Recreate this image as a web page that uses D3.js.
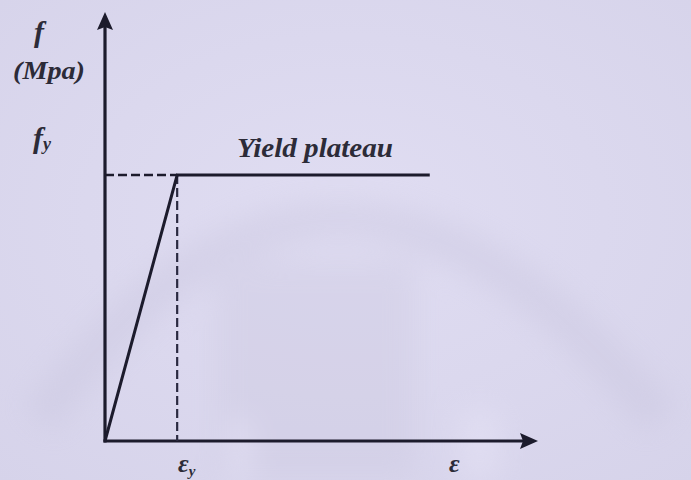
<!DOCTYPE html>
<html><head><meta charset="utf-8">
<script src="https://cdn.jsdelivr.net/npm/d3@7"></script>
<style>html,body{margin:0;padding:0;background:#dcd9ef;}svg{display:block;}</style>
</head><body>
<svg id="c" width="691" height="480"></svg>
<script>
// Data (normalized elastic–perfectly-plastic steel model)
const strainPoints = [0, 1, 4.5];        // 0, εy, end of yield plateau
const stressPoints = [0, 0.62, 0.62];    // 0, fy, fy
const yieldStrain = 1;
const yieldStress = 0.62;
const xDomain = [0, 6];
const yDomain = [0, 1];
const labels = {yTitle: "f", yUnit: "(Mpa)", fy: "f", fySub: "y", eps: "ε", epsSub: "y", plateau: "Yield plateau"};

const svg = d3.select("#c");
const W = 691, H = 480;

// background with faint watermark-like shapes
const defs = svg.append("defs");
const rg = defs.append("radialGradient").attr("id","bg").attr("cx","0.5").attr("cy","0.45").attr("r","0.75");
rg.append("stop").attr("offset","0").attr("stop-color","#e0ddf2");
rg.append("stop").attr("offset","1").attr("stop-color","#d6d3ea");
svg.append("rect").attr("width",W).attr("height",H).attr("fill","url(#bg)");
const blur = defs.append("filter").attr("id","blur").attr("x","-20%").attr("y","-20%").attr("width","140%").attr("height","140%");
blur.append("feGaussianBlur").attr("stdDeviation",14);
const wm = svg.append("g").attr("filter","url(#blur)").attr("opacity",0.35);
wm.append("path").attr("d","M40,420 Q330,20 660,420").attr("fill","none").attr("stroke","#c6c2dc").attr("stroke-width",40);
wm.append("rect").attr("x",215).attr("y",260).attr("width",200).attr("height",220).attr("fill","#cbc7df");
wm.append("rect").attr("x",460).attr("y",410).attr("width",40).attr("height",70).attr("fill","#ece9fa");
wm.append("rect").attr("x",230).attr("y",420).attr("width",20).attr("height",60).attr("fill","#ece9fa");

const x = d3.scaleLinear().domain(xDomain).range([105, 538]);
const y = d3.scaleLinear().domain(yDomain).range([441, 12]);

const ink = "#1c1b2c";
const g = svg.append("g");

// axes (drawn with d3 axis generators, ticks hidden)
const xAxis = g.append("g").attr("transform",`translate(0,${y(0)})`).call(d3.axisBottom(x).tickValues([]).tickSizeOuter(0));
xAxis.select(".domain").attr("stroke",ink).attr("stroke-width",3.2).attr("d",`M${x(0)-1.5},0H${x(xDomain[1])-14}`);
const yAxis = g.append("g").attr("transform",`translate(${x(0)},0)`).call(d3.axisLeft(y).tickValues([]).tickSizeOuter(0));
yAxis.select(".domain").attr("stroke",ink).attr("stroke-width",3.2).attr("d",`M0,${y(0)+1.5}V${y(yDomain[1])+14}`);

// arrow heads
g.append("path").attr("fill",ink)
  .attr("d",`M${x(xDomain[1])},${y(0)} L${x(xDomain[1])-18},${y(0)-8} L${x(xDomain[1])-15},${y(0)} L${x(xDomain[1])-18},${y(0)+8}Z`);
g.append("path").attr("fill",ink)
  .attr("d",`M${x(0)},${y(yDomain[1])} L${x(0)-8},${y(yDomain[1])+18} L${x(0)},${y(yDomain[1])+15} L${x(0)+8},${y(yDomain[1])+18}Z`);

// dashed guide lines
g.append("line").attr("x1",x(0)).attr("x2",x(yieldStrain)).attr("y1",y(yieldStress)).attr("y2",y(yieldStress))
  .attr("stroke",ink).attr("stroke-width",2.4).attr("stroke-dasharray","9,4");
g.append("line").attr("x1",x(yieldStrain)).attr("x2",x(yieldStrain)).attr("y1",y(yieldStress)).attr("y2",y(0))
  .attr("stroke","#2a2940").attr("stroke-width",2.2).attr("stroke-dasharray","9,4");

// stress–strain curve
const line = d3.line().x((d,i)=>x(strainPoints[i])).y((d,i)=>y(stressPoints[i]));
g.append("path").datum(strainPoints).attr("d",line).attr("fill","none").attr("stroke",ink)
  .attr("stroke-width",3).attr("stroke-linejoin","miter");

// text
const font = "Liberation Serif";
function txt(xp, yp, s, size, opts={}) {
  const t = g.append("text").attr("x",xp).attr("y",yp).attr("font-family",font)
    .attr("font-style","italic").attr("font-weight","bold").attr("font-size",size)
    .attr("fill","#2c2b38").text(s);
  if (opts.len) t.attr("textLength",opts.len).attr("lengthAdjust","spacingAndGlyphs");
  if (opts.anchor) t.attr("text-anchor",opts.anchor);
  return t;
}
txt(34, 42, labels.yTitle, 30);
txt(13, 79, labels.yUnit, 25, {len: 72});
const fyT = txt(33, 148, labels.fy, 30);
fyT.append("tspan").attr("dy",2).attr("font-size",18).text(labels.fySub);
txt(237, 157, labels.plateau, 27, {len: 156});
const ey = txt(178, 472, labels.eps, 26);
ey.append("tspan").attr("dy",4).attr("font-size",15).text(labels.epsSub);
txt(449, 472, labels.eps, 26);
</script>
</body></html>
